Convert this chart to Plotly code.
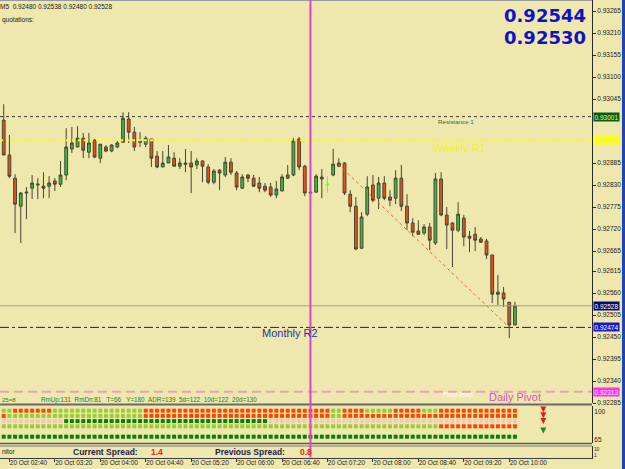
import plotly.graph_objects as go
import pandas as pd

# ---------------- data ----------------
start_time = "2014-10-20 02:30"
opens = [0.92917, 0.92992, 0.92905, 0.92847, 0.92777, 0.92810, 0.92822, 0.92830, 0.92827, 0.92827,
         0.92840, 0.92832, 0.92855, 0.92920, 0.92925, 0.92947, 0.92912, 0.92942, 0.92897, 0.92925,
         0.92915, 0.92925, 0.92937, 0.92995, 0.92962, 0.92940, 0.92932, 0.92945, 0.92902, 0.92875,
         0.92885, 0.92897, 0.92877, 0.92885, 0.92885, 0.92880, 0.92890, 0.92875, 0.92837, 0.92867,
         0.92855, 0.92887, 0.92860, 0.92822, 0.92855, 0.92847, 0.92835, 0.92827, 0.92825, 0.92805,
         0.92815, 0.92847, 0.92855, 0.92945, 0.92877, 0.92810, 0.92812, 0.92850, 0.92830, 0.92855,
         0.92877, 0.92885, 0.92807, 0.92777, 0.92672, 0.92757, 0.92830, 0.92797, 0.92835, 0.92800,
         0.92797, 0.92847, 0.92777, 0.92735, 0.92715, 0.92710, 0.92725, 0.92685, 0.92845, 0.92755,
         0.92735, 0.92717, 0.92747, 0.92702, 0.92707, 0.92695, 0.92690, 0.92655, 0.92557, 0.92560,
         0.92537, 0.92480]
highs = [0.93035, 0.93032, 0.92955, 0.92857, 0.92812, 0.92825, 0.92855, 0.92847, 0.92862, 0.92852,
         0.92847, 0.92890, 0.92972, 0.92975, 0.92977, 0.92960, 0.92960, 0.92945, 0.92932, 0.92930,
         0.92932, 0.92940, 0.93012, 0.93012, 0.92975, 0.92962, 0.92952, 0.92945, 0.92915, 0.92915,
         0.92930, 0.92912, 0.92897, 0.92920, 0.92915, 0.92897, 0.92892, 0.92882, 0.92870, 0.92870,
         0.92900, 0.92897, 0.92865, 0.92857, 0.92857, 0.92855, 0.92850, 0.92835, 0.92835, 0.92840,
         0.92857, 0.92880, 0.92947, 0.92950, 0.92880, 0.92835, 0.92857, 0.92870, 0.92852, 0.92920,
         0.92897, 0.92887, 0.92817, 0.92800, 0.92762, 0.92852, 0.92855, 0.92850, 0.92852, 0.92817,
         0.92867, 0.92880, 0.92807, 0.92747, 0.92742, 0.92732, 0.92735, 0.92860, 0.92862, 0.92775,
         0.92737, 0.92787, 0.92755, 0.92715, 0.92725, 0.92700, 0.92695, 0.92655, 0.92605, 0.92575,
         0.92537, 0.92538]
lows = [0.92742, 0.92905, 0.92847, 0.92710, 0.92685, 0.92745, 0.92795, 0.92795, 0.92797, 0.92797,
        0.92815, 0.92825, 0.92842, 0.92910, 0.92925, 0.92897, 0.92897, 0.92897, 0.92885, 0.92912,
        0.92912, 0.92922, 0.92935, 0.92935, 0.92915, 0.92925, 0.92925, 0.92875, 0.92872, 0.92875,
        0.92885, 0.92877, 0.92870, 0.92862, 0.92810, 0.92870, 0.92837, 0.92832, 0.92832, 0.92817,
        0.92850, 0.92855, 0.92817, 0.92820, 0.92837, 0.92825, 0.92812, 0.92812, 0.92800, 0.92797,
        0.92815, 0.92845, 0.92852, 0.92867, 0.92802, 0.92742, 0.92812, 0.92797, 0.92810, 0.92852,
        0.92875, 0.92805, 0.92762, 0.92667, 0.92670, 0.92752, 0.92787, 0.92770, 0.92792, 0.92777,
        0.92782, 0.92765, 0.92717, 0.92702, 0.92705, 0.92705, 0.92667, 0.92680, 0.92752, 0.92670,
        0.92625, 0.92712, 0.92677, 0.92662, 0.92665, 0.92685, 0.92645, 0.92535, 0.92530, 0.92525,
        0.92447, 0.92480]
closes = [0.92992, 0.92905, 0.92852, 0.92782, 0.92810, 0.92812, 0.92835, 0.92832, 0.92822, 0.92835,
          0.92832, 0.92855, 0.92925, 0.92935, 0.92947, 0.92917, 0.92935, 0.92900, 0.92932, 0.92915,
          0.92930, 0.92935, 0.92997, 0.92962, 0.92925, 0.92937, 0.92947, 0.92897, 0.92875, 0.92885,
          0.92900, 0.92877, 0.92885, 0.92882, 0.92875, 0.92890, 0.92877, 0.92837, 0.92865, 0.92860,
          0.92887, 0.92862, 0.92825, 0.92850, 0.92847, 0.92827, 0.92822, 0.92817, 0.92805, 0.92820,
          0.92850, 0.92855, 0.92940, 0.92875, 0.92810, 0.92812, 0.92852, 0.92845, 0.92832, 0.92882,
          0.92885, 0.92810, 0.92777, 0.92670, 0.92750, 0.92825, 0.92792, 0.92835, 0.92797, 0.92792,
          0.92847, 0.92777, 0.92735, 0.92712, 0.92707, 0.92725, 0.92692, 0.92845, 0.92755, 0.92730,
          0.92717, 0.92757, 0.92700, 0.92697, 0.92692, 0.92687, 0.92655, 0.92557, 0.92562, 0.92545,
          0.92480, 0.92528]
lime_bar = 58

header_text = "M5  0.92480 0.92538 0.92480 0.92528"
big_quotes = ["0.92544", "0.92530"]

resistance_1 = 0.93001
weekly_r1 = 0.92942
bid_price = 0.92528
monthly_r2 = 0.92474
daily_pivot = 0.92313

price_ticks = [0.93265, 0.93210, 0.93155, 0.93100, 0.93045, 0.92885, 0.92830, 0.92775, 0.92720,
               0.92665, 0.92615, 0.92560, 0.92505, 0.92450, 0.92395, 0.92340, 0.92285]

time_ticks = ["02:40", "03:20", "04:00", "04:40", "05:20", "06:00", "06:40", "07:20",
              "08:00", "08:40", "09:20", "10:00"]
vline_time = "07:05"
trend_start = ("07:30", 0.92880)
trend_end = ("10:00", 0.92474)

# indicator rows (one square per bar): G light green, R red, D dark green, P pink
row_a = "GGG" + "R" * 7 + "G" * 16 + "R" * 33 + "GG" + "RRRR" + "G" * 5 + "R" * 5 + "GGG" + "R" * 14
row_b = "RR" + "G" * 24 + "R" * 33 + "GG" + "R" * 31
row_c = "P" * 12 + "D" * 36 + "P" * 44
row_d = "G" * 78 + "R" * 14
row_e = "D" * 92
indicator_rows = [row_a, row_b, row_c, row_d, "", row_e]
indicator_prefix = "25=8"
indicator_info = "RmUp:131  RmDn:81   T=66   Y=180  ADR=139  5d=122  10d=122  20d=130"
current_spread = "1.4"
previous_spread = "0.8"

# ---------------- figure ----------------
DAY = "2014-10-20 "
times = pd.date_range(start_time, periods=len(opens), freq="5min")
W, H = 625, 469
PW, PH = 592, 458          # plot area (margin r=33, b=11)
BG = "#EEE8AE"
FONT = "Liberation Sans, Arial, sans-serif"
BIG_FONT = "DejaVu Sans, Verdana, sans-serif"
col_map = {"G": "#9ACD32", "R": "#FF4500", "D": "#0A7D0A", "P": "#F6C6BC"}
X_RANGE = [DAY + "02:31:44", DAY + "11:12:50"]
LABEL_SHIFT = pd.Timedelta(seconds=1003)   # labels start just right of their tick


def px(x):
    return x / PW


def py(y):
    return 1 - y / PH


fig = go.Figure()

idx = [i for i in range(len(opens)) if i != lime_bar]
fig.add_trace(go.Candlestick(
    x=[times[i] for i in idx], open=[opens[i] for i in idx], high=[highs[i] for i in idx],
    low=[lows[i] for i in idx], close=[closes[i] for i in idx],
    increasing=dict(fillcolor="#3DB84A", line=dict(color="#46452E", width=1)),
    decreasing=dict(fillcolor="#E4521F", line=dict(color="#46452E", width=1)),
    whiskerwidth=0, xaxis="x", yaxis="y", showlegend=False, hoverinfo="skip"))
fig.add_trace(go.Candlestick(
    x=[times[lime_bar]], open=[opens[lime_bar]], high=[highs[lime_bar]],
    low=[lows[lime_bar]], close=[closes[lime_bar]],
    increasing=dict(fillcolor="#7CFC00", line=dict(color="#7CFC00", width=1)),
    decreasing=dict(fillcolor="#7CFC00", line=dict(color="#7CFC00", width=1)),
    xaxis="x", yaxis="y", showlegend=False, hoverinfo="skip"))

# indicator squares
sx, sy, sc = [], [], []
for k, row in enumerate(indicator_rows):
    for i, ch in enumerate(row):
        sx.append(times[i])
        sy.append(k)
        sc.append(col_map[ch])
fig.add_trace(go.Scatter(x=sx, y=sy, mode="markers", xaxis="x", yaxis="y2",
                         marker=dict(symbol="square", size=4, color=sc, line=dict(width=0)),
                         showlegend=False, hoverinfo="skip"))
arrow_time = pd.Timestamp(DAY + "10:30")
fig.add_trace(go.Scatter(x=[arrow_time] * 3, y=[0.35, 1.45, 2.55], mode="markers", xaxis="x", yaxis="y2",
                         marker=dict(symbol="arrow-down", size=6, color="#E02020"),
                         showlegend=False, hoverinfo="skip"))
fig.add_trace(go.Scatter(x=[arrow_time], y=[4.4], mode="markers", xaxis="x", yaxis="y2",
                         marker=dict(symbol="arrow-down", size=6, color="#1E8A1E"),
                         showlegend=False, hoverinfo="skip"))
fig.add_trace(go.Scatter(x=[pd.Timestamp(DAY + vline_time)], y=[-1.25], mode="markers",
                         xaxis="x", yaxis="y2", cliponaxis=False,
                         marker=dict(symbol="square-open", size=6, color="#E040D0", line=dict(width=1)),
                         showlegend=False, hoverinfo="skip"))

shapes = []
shapes.append(dict(type="line", xref="paper", x0=0, x1=1, yref="y", y0=resistance_1, y1=resistance_1,
                   line=dict(color="#3A3A2A", width=1, dash="3px,3px")))
shapes.append(dict(type="line", xref="paper", x0=0, x1=1, yref="y", y0=weekly_r1, y1=weekly_r1,
                   line=dict(color="#F5F53A", width=2, dash="dot")))
shapes.append(dict(type="line", xref="paper", x0=0, x1=1, yref="y", y0=bid_price, y1=bid_price,
                   line=dict(color="#A09E86", width=1)))
shapes.append(dict(type="line", xref="paper", x0=0, x1=1, yref="y", y0=monthly_r2, y1=monthly_r2,
                   line=dict(color="#1E1E6E", width=1, dash="dashdot")))
shapes.append(dict(type="line", xref="paper", x0=0, x1=1, yref="y", y0=daily_pivot, y1=daily_pivot,
                   line=dict(color="#E6A2B8", width=2, dash="9px,5px")))
shapes.append(dict(type="line", xref="x", yref="y",
                   x0=pd.Timestamp(DAY + trend_start[0]), y0=trend_start[1],
                   x1=pd.Timestamp(DAY + trend_end[0]), y1=trend_end[1],
                   line=dict(color="#E8643C", width=1, dash="dot")))
for yy, w, c in [(404.5, 2, "#6A6A6A"), (443.5, 1.5, "#5A5A5A"), (446, 1, "#7A7A7A"), (0.5, 1, "#9A9A9A")]:
    shapes.append(dict(type="line", xref="paper", x0=0, x1=1, yref="paper", y0=py(yy), y1=py(yy),
                       line=dict(color=c, width=w)))
vt = pd.Timestamp(DAY + vline_time)
shapes.append(dict(type="line", xref="x", x0=vt, x1=vt, yref="paper", y0=py(457.5), y1=1,
                   line=dict(color="#E040D0", width=2)))
shapes.append(dict(type="rect", xref="paper", x0=px(622), x1=px(626), yref="paper", y0=py(470), y1=py(-1),
                   fillcolor="#1F45B0", line=dict(width=0)))

ann = []


def text(x, y, s, size, color, anchor="left", bold=False, yref="paper", yshift=0, family=FONT):
    d = dict(x=px(x), xref="paper", y=(py(y) if yref == "paper" else y), yref=yref,
             text=(f"<b>{s}</b>" if bold else s).replace(" ", "\u00a0"),
             showarrow=False, xanchor=anchor, yanchor="middle", yshift=yshift,
             font=dict(family=family, size=size, color=color))
    ann.append(d)


text(-2, 6, header_text, 6.5, "#1A1A1A")
text(0, 20, "quotations:", 6.5, "#1A1A1A")
text(588, 15, big_quotes[0], 18, "#1010C8", anchor="right", bold=True, family=BIG_FONT)
text(588, 37, big_quotes[1], 18, "#1010C8", anchor="right", bold=True, family=BIG_FONT)

text(455.5, resistance_1, "Resistance 1", 6.2, "#2E6E2E", anchor="center", yref="y", yshift=-4.5)
text(459, weekly_r1, "Weekly R1", 11, "#F2F22E", anchor="center", yref="y", yshift=-7.5)
text(289.5, monthly_r2, "Monthly R2", 11, "#2F2FA0", anchor="center", yref="y", yshift=-6)
text(515, daily_pivot, "Daily Pivot", 11, "#E04FC2", anchor="center", yref="y", yshift=-5)
text(458, daily_pivot, "Pivot level", 6.5, "#FFFFFF", anchor="center", yref="y", yshift=-2.5)

for val, bg, fc in [(resistance_1, "#0B5E0B", "#E8F0C0"), (weekly_r1, "#FFFF10", "#F0F070"),
                    (bid_price, "#0A0A6E", "#FFFFFF"), (monthly_r2, "#1818C8", "#FFFFFF"),
                    (daily_pivot, "#FF30F0", "#FFE6FF")]:
    ann.append(dict(x=1, xref="paper", xanchor="left", xshift=1, y=val, yref="y", yanchor="middle",
                    text=f"{val:.5f}", showarrow=False, bgcolor=bg, borderpad=0.5,
                    font=dict(family=FONT, size=6.5, color=fc)))

text(0, 400, indicator_prefix, 6, "#2F7A22")
text(39, 400, indicator_info, 6.3, "#2F7A22")

text(0, 451.5, "nitor", 6.5, "#1A1A1A")
text(71, 451.5, "Current Spread:", 8.5, "#1E2050", bold=True)
text(149, 451.5, current_spread, 8.5, "#F02020", bold=True)
text(213, 451.5, "Previous Spread:", 8.5, "#1E2050", bold=True)
text(298, 451.5, previous_spread, 8.5, "#F02020", bold=True)

tick_times = [pd.Timestamp(DAY + t) for t in time_ticks]
fig.update_layout(
    width=W, height=H, margin=dict(l=0, r=W - PW, t=0, b=H - PH, pad=0),
    paper_bgcolor=BG, plot_bgcolor=BG, showlegend=False,
    shapes=shapes, annotations=ann,
    xaxis=dict(type="date", range=X_RANGE, anchor="y3",
               rangeslider=dict(visible=False), showgrid=False, zeroline=False,
               showline=True, linecolor="#3A3A3A", linewidth=1,
               ticks="outside", ticklen=3, tickcolor="#3A3A3A",
               tickvals=tick_times, showticklabels=False),
    xaxis2=dict(type="date", range=X_RANGE, overlaying="x", anchor="y3", side="bottom",
                showgrid=False, zeroline=False, showline=False, ticks="",
                tickvals=[t + LABEL_SHIFT for t in tick_times],
                ticktext=["20 Oct " + t for t in time_ticks],
                tickfont=dict(family=FONT, size=6.5, color="#1A1A1A")),
    yaxis=dict(domain=[py(403), 1], range=[0.92285, 0.932925], side="right", anchor="x",
               showgrid=False, zeroline=False, showline=True, linecolor="#2A2A2A",
               ticks="outside", ticklen=3, tickcolor="#2A2A2A",
               tickvals=price_ticks, ticktext=[f"{v:.5f}" for v in price_ticks],
               tickfont=dict(family=FONT, size=6.5, color="#1A1A1A")),
    yaxis2=dict(domain=[py(443), py(406)], range=[6.2115, -0.9038], side="right", anchor="x",
                showgrid=False, zeroline=False, showline=True, linecolor="#2A2A2A",
                ticks="", tickvals=[0.25, 5.63], ticktext=["100", "65"],
                tickfont=dict(family=FONT, size=6.5, color="#1A1A1A")),
    yaxis3=dict(domain=[py(457.5), py(446)], range=[-2.75, 14.5], side="right", anchor="x",
                showgrid=False, zeroline=False, showline=True, linecolor="#2A2A2A",
                ticks="", tickvals=[10, 1], ticktext=["10", "1"],
                tickfont=dict(family=FONT, size=4.8, color="#1A1A1A")),
)
# an invisible trace so that xaxis2 is drawn
fig.add_trace(go.Scatter(x=[tick_times[0]], y=[0], xaxis="x2", yaxis="y3", mode="markers",
                         marker=dict(size=1, opacity=0), showlegend=False, hoverinfo="skip"))

fig.write_html("out.html")
